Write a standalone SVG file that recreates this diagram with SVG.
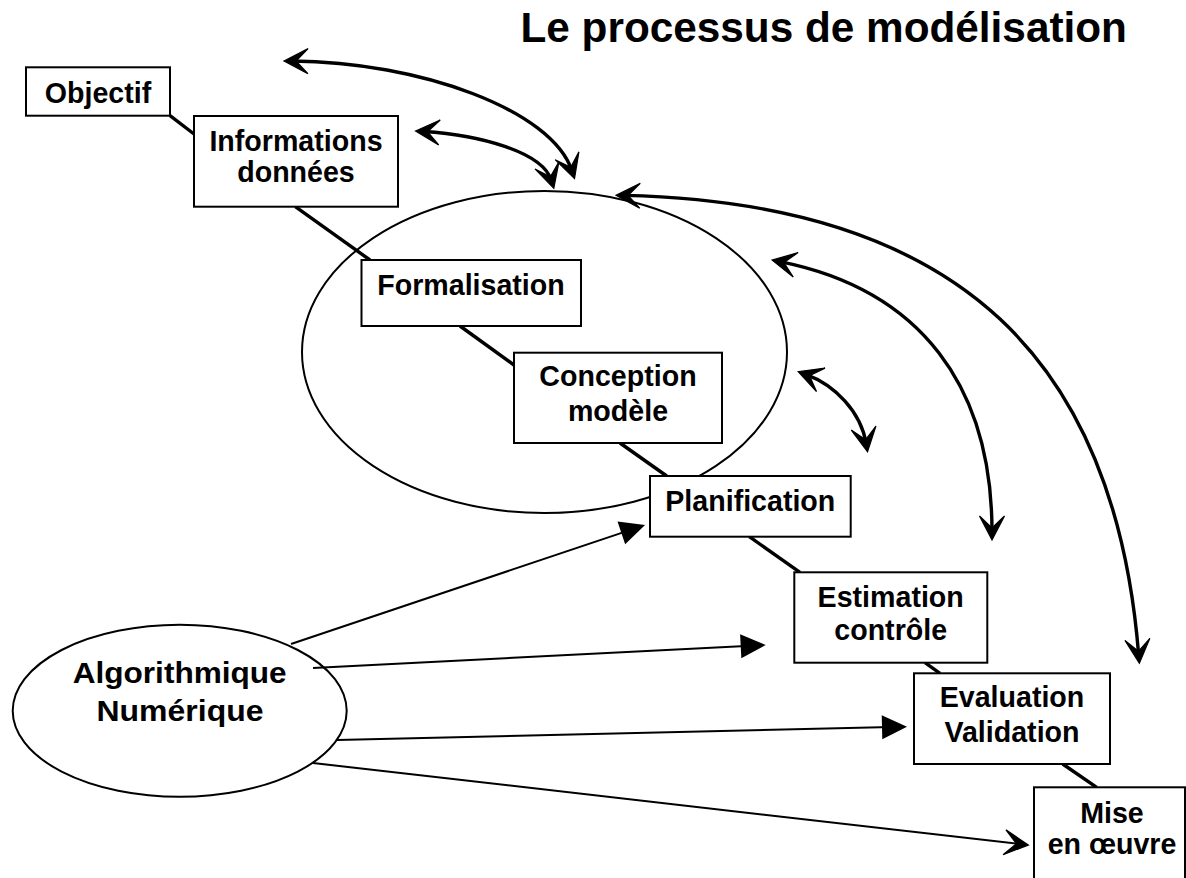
<svg xmlns="http://www.w3.org/2000/svg" width="1186" height="878" viewBox="0 0 1186 878">
<style>
text{font-family:"Liberation Sans",Arial,Helvetica,sans-serif;font-weight:bold;fill:#000}
.t{font-size:28.6px;text-anchor:middle}
.title{font-size:42.3px}
.box{fill:#fff;stroke:#000;stroke-width:2}
.ell{fill:none;stroke:#000;stroke-width:2}
.chain{stroke:#000;stroke-width:3.4;fill:none}
.arc{stroke:#000;stroke-width:3.4;fill:none;marker-start:url(#stealthS);marker-end:url(#stealth)}
.arr{stroke:#000;stroke-width:2;fill:none;marker-end:url(#tri)}
.arr2{stroke:#000;stroke-width:2;fill:none;marker-end:url(#stealth)}
</style>
<defs>
<marker id="stealth" markerUnits="userSpaceOnUse" viewBox="-20 -15 32 30" refX="0" refY="0" markerWidth="32" markerHeight="30" orient="auto" overflow="visible">
<path d="M8,0 L-16,-12.5 L-4,0 L-16,12.5 Z" fill="#000" stroke="#000" stroke-width="1.2" stroke-linejoin="miter"/>
</marker>
<marker id="stealthS" markerUnits="userSpaceOnUse" viewBox="-20 -15 32 30" refX="0" refY="0" markerWidth="32" markerHeight="30" orient="auto-start-reverse" overflow="visible">
<path d="M8,0 L-16,-12.5 L-4,0 L-16,12.5 Z" fill="#000" stroke="#000" stroke-width="1.2" stroke-linejoin="miter"/>
</marker>
<marker id="tri" markerUnits="userSpaceOnUse" viewBox="-22 -14 30 28" refX="0" refY="0" markerWidth="30" markerHeight="28" orient="auto" overflow="visible">
<path d="M5,0 L-20,-12 L-20,12 Z" fill="#000"/>
</marker>
</defs>
<rect width="1186" height="878" fill="#fff"/>

<text class="title" x="520.5" y="41.7">Le processus de modélisation</text>

<g id="node-modelisation">
<ellipse class="ell" cx="544.5" cy="352" rx="242.5" ry="161"/>
</g>
<g id="node-algorithmique">
<ellipse class="ell" cx="179.7" cy="710.8" rx="167" ry="86"/>
<text class="t" x="179.7" y="683.3" textLength="214" lengthAdjust="spacingAndGlyphs">Algorithmique</text>
<text class="t" x="180" y="720.5" textLength="167" lengthAdjust="spacingAndGlyphs">Numérique</text>
</g>

<g id="connectors">
<line class="chain" x1="170" y1="115.7" x2="194" y2="134"/>
<line class="chain" x1="295.3" y1="206.7" x2="370" y2="260"/>
<line class="chain" x1="460" y1="326" x2="514" y2="365"/>
<line class="chain" x1="620" y1="443" x2="666.7" y2="476"/>
<line class="chain" x1="749.3" y1="536.7" x2="800" y2="572.3"/>
<line class="chain" x1="925" y1="662.7" x2="940" y2="673.3"/>
<line class="chain" x1="1062.7" y1="764" x2="1096.7" y2="787.3"/>

<path class="arc" d="M292,61 C420,62 552,110 572,171"/>
<path class="arc" d="M423.5,131.5 C480,135 543,152 551.5,180.7"/>
<path class="arc" d="M624,195.4 C963.8,203 1115.4,364.3 1138.7,655.3"/>
<path class="arc" d="M780,261.7 C921.3,290 992,387 992,532"/>
<path class="arc" d="M805.7,374.4 C835,385 861,412 866.2,443.8"/>

<line class="arr" x1="291" y1="644" x2="640.3" y2="526.6"/>
<line class="arr" x1="313" y1="668" x2="760.7" y2="645.25"/>
<line class="arr" x1="337" y1="740" x2="902" y2="726.8"/>
<line class="arr2" x1="313" y1="763" x2="1020.4" y2="844.1"/>
</g>

<g id="node-objectif">
<rect class="box" x="26" y="67.3" width="144" height="48.4"/>
<text class="t" x="98" y="102.7">Objectif</text>
</g>
<g id="node-informations">
<rect class="box" x="194" y="116" width="204" height="90.7"/>
<text class="t" x="296" y="150.7">Informations</text>
<text class="t" x="296" y="181.7">données</text>
</g>
<g id="node-formalisation">
<rect class="box" x="361.5" y="260" width="219.5" height="66"/>
<text class="t" x="471" y="295">Formalisation</text>
</g>
<g id="node-conception">
<rect class="box" x="514" y="352.7" width="208" height="90.3"/>
<text class="t" x="618" y="386">Conception</text>
<text class="t" x="618" y="420.7">modèle</text>
</g>
<g id="node-planification">
<rect class="box" x="650" y="476" width="200.7" height="60.7"/>
<text class="t" x="750.3" y="510.7">Planification</text>
</g>
<g id="node-estimation">
<rect class="box" x="794.3" y="572.3" width="193" height="90.4"/>
<text class="t" x="890.7" y="606.7">Estimation</text>
<text class="t" x="890.7" y="640">contrôle</text>
</g>
<g id="node-evaluation">
<rect class="box" x="914" y="673.3" width="196" height="90.7"/>
<text class="t" x="1012" y="707.3">Evaluation</text>
<text class="t" x="1012" y="741.7">Validation</text>
</g>
<g id="node-mise">
<rect class="box" x="1034" y="787.3" width="151" height="110"/>
<text class="t" x="1112" y="822.7">Mise</text>
<text class="t" x="1112" y="854">en œuvre</text>
</g>
</svg>
